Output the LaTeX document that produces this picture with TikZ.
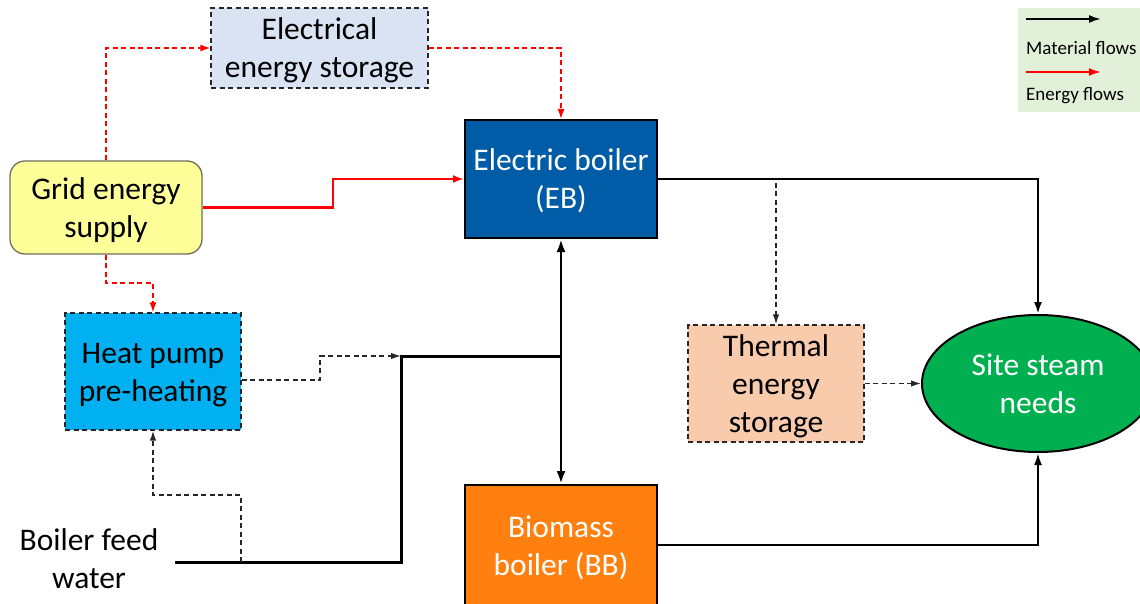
\documentclass[tikz,border=0pt]{standalone}
\usepackage{fontspec}
\setmainfont{Carlito}
\usetikzlibrary{arrows.meta,shapes.geometric}
\definecolor{eesfill}{HTML}{DAE3F3}
\definecolor{gridfill}{HTML}{FFFF99}
\definecolor{gridline}{HTML}{6F6F5A}
\definecolor{ebfill}{HTML}{005CA6}
\definecolor{hpfill}{HTML}{00B0F0}
\definecolor{tesfill}{HTML}{F8CBAD}
\definecolor{sitefill}{HTML}{00B050}
\definecolor{bbfill}{HTML}{FF800E}
\definecolor{legfill}{HTML}{E2F0D9}
\definecolor{flowred}{HTML}{FF0000}
\newcommand{\mytopstrut}{\rule{0pt}{0.952em}}
\newcommand{\mybotstrut}{\rule[-0.269em]{0pt}{0.269em}}
\tikzset{
  bigtext/.style={font=\fontsize{31.5}{38}\selectfont, align=center, inner sep=0pt},
  dashbox/.style={bigtext, draw=black!85, line width=1.3pt, dash pattern=on 5pt off 3.5pt},
  solidbox/.style={bigtext, draw=black, line width=2pt},
  redsolid/.style={draw=flowred, line width=2.6pt, -{Latex[length=11pt,width=8pt]}},
  reddash/.style={draw=flowred, line width=1.4pt, dash pattern=on 5pt off 3.5pt, -{Latex[length=10pt,width=7pt]}},
  blacksolid/.style={draw=black, line width=2.2pt, -{Latex[length=12pt,width=8pt]}},
  blackdash/.style={draw=black!85, line width=1.4pt, dash pattern=on 5pt off 3.5pt, -{Latex[length=10pt,width=6.5pt]}},
  feedline/.style={draw=black, line width=3pt},
  legtext/.style={font=\fontsize{19}{23}\selectfont, anchor=west, inner sep=0pt}
}
\begin{document}
\begin{tikzpicture}[x=1pt,y=-1pt]
\useasboundingbox (0,0) rectangle (1140,604);
\clip (0,0) rectangle (1140,604);

% legend
\node[fill=legfill, minimum width=130pt, minimum height=104pt, inner sep=0pt, anchor=north west] (legend) at (1018,8) {};
\coordinate (lma) at (1026,19);
\coordinate (lmb) at (1101,19);
\coordinate (lea) at (1026,72);
\coordinate (leb) at (1101,72);
\draw[draw=black, line width=2pt, -{Latex[length=12pt,width=8pt]}] (lma) -- (lmb);
\draw[draw=flowred, line width=2pt, -{Latex[length=12pt,width=8pt]}] (lea) -- (leb);
\node[legtext] (lmt) at (1026,48) {Material flows};
\node[legtext] (let) at (1026,96) {Energy flows};

% nodes
\node[dashbox, fill=eesfill, minimum width=217pt, minimum height=80pt] (ees) at (319.5,48) {\mytopstrut Electrical\\energy storage\mybotstrut};
\node[bigtext, draw=gridline, line width=1.3pt, fill=gridfill, rounded corners=15pt, minimum width=192pt, minimum height=93pt] (grid) at (106,207.5) {\mytopstrut Grid energy\\supply\mybotstrut};
\node[solidbox, fill=ebfill, text=white, minimum width=192pt, minimum height=118pt] (eb) at (561,179) {\mytopstrut Electric boiler\\(EB)\mybotstrut};
\node[dashbox, fill=hpfill, minimum width=176pt, minimum height=117pt] (hp) at (153,371.5) {\mytopstrut Heat pump\\pre-heating\mybotstrut};
\node[dashbox, fill=tesfill, minimum width=176pt, minimum height=117pt] (tes) at (776,383.5) {\mytopstrut Thermal\\energy\\storage\mybotstrut};
\node[bigtext, ellipse, draw=black, line width=2pt, fill=sitefill, text=white, minimum width=232pt, minimum height=137pt] (site) at (1038,383.5) {\mytopstrut Site steam\\needs\mybotstrut};
\node[solidbox, fill=bbfill, text=white, minimum width=192pt, minimum height=122pt] (bb) at (561,546) {\mytopstrut Biomass\\boiler (BB)\mybotstrut};
\node[bigtext] (bfw) at (89,559) {Boiler feed\\water};

% red energy flows
\draw[redsolid] (grid.east) -- (333,207.5) -- (333,179) -- (eb.west);
\draw[reddash] (grid.north) -- (106,48) -- (ees.west);
\draw[reddash] (ees.east) -- (561,48) -- (eb.north);
\draw[reddash] (grid.south) -- (106,283) -- (153,283) -- (hp.north);

% material flows
\coordinate (tesjoin) at (776,179);
\draw[blacksolid] (eb.east) -- (1038,179) -- (site.north);
\draw[blackdash] (776,183) -- (tes.north);
\draw[blackdash] (tes.east) -- (site.west);
\draw[blacksolid] (bb.east |- 0,545) -- (1038,545) -- (site.south);

% feed water
\coordinate (feedstart) at (175,562);
\coordinate (feedcorner) at (401,562);
\coordinate (feedtop) at (401,356);
\coordinate (junction) at (561,356);
\coordinate (hptap) at (241,562);
\draw[feedline, line join=miter] (feedstart) -- (feedcorner) -- (feedtop) -- (junction);
\draw[draw=black, line width=2.6pt, -{Latex[length=13pt,width=9pt]}] (junction) -- (eb.south);
\draw[draw=black, line width=2.6pt, -{Latex[length=13pt,width=9pt]}] (junction) -- (bb.north);
\draw[blackdash] (hp.east |- 0,380) -- (320,380) -- (320,356) -- (feedtop);
\draw[blackdash] (hptap) -- (241,495) -- (153,495) -- (hp.south);
\end{tikzpicture}
\end{document}
